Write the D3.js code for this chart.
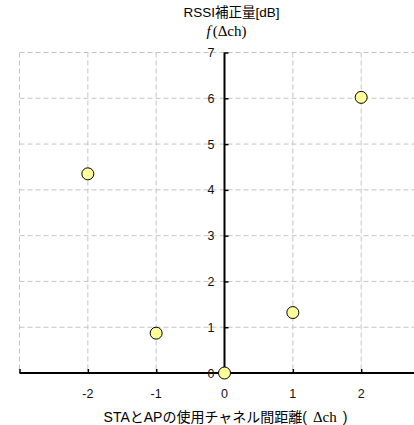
<!DOCTYPE html>
<html><head><meta charset="utf-8">
<script src="https://cdn.jsdelivr.net/npm/d3@7"></script>
<style>body{margin:0;background:#fff}svg{display:block}</style>
</head><body>
<svg id="c" width="414" height="425"></svg>
<script>
const xValues = [-2, -1, 0, 1, 2];
const yValues = [4.35, 0.87, 0, 1.32, 6.02];
const xTicks = [-2, -1, 0, 1, 2];
const yTicks = [0, 1, 2, 3, 4, 5, 6, 7];
const title1 = "RSSI補正量[dB]";
const xTitle = "STAとAPの使用チャネル間距離";

const svg = d3.select("#c");
const x = d3.scaleLinear().domain([-3, 3]).range([19.5, 429.5]);
const y = d3.scaleLinear().domain([0, 7]).range([373, 52.5]);
const gridColor = "#c4c4c4";
const font = "Liberation Sans, Arial, 'Noto Sans CJK JP', sans-serif";
const serif = "Liberation Serif, 'Times New Roman', serif";

// grid
const g = svg.append("g");
g.selectAll(".hg").data(yTicks.filter(d => d > 0)).join("line")
  .attr("x1", x(-3)).attr("x2", 414).attr("y1", d => y(d)).attr("y2", d => y(d))
  .attr("stroke", gridColor).attr("stroke-dasharray", "5,3");
g.selectAll(".vg").data([-3, ...xTicks.filter(d => d !== 0)]).join("line")
  .attr("x1", d => x(d)).attr("x2", d => x(d)).attr("y1", y(7)).attr("y2", y(0))
  .attr("stroke", gridColor).attr("stroke-dasharray", "5,3");

// x axis
const xAxis = svg.append("g").attr("transform", `translate(0,${y(0)})`)
  .call(d3.axisTop(x).tickValues([-3, ...xTicks]).tickSize(4).tickFormat(""));
xAxis.select(".domain").attr("stroke-width", 2).attr("d", `M${x(-3)},0H414`);
xAxis.selectAll(".tick line").attr("stroke-width", 1.5);
svg.append("g").selectAll("text").data(xTicks).join("text")
  .attr("x", d => x(d)).attr("y", y(0) + 24.5)
  .attr("text-anchor", "middle").attr("font-family", font).attr("font-size", 12.5)
  .attr("fill", "#111").text(d => d);

// y axis
const yAxis = svg.append("g").attr("transform", `translate(${x(0)},0)`)
  .call(d3.axisRight(y).tickValues(yTicks).tickSize(4).tickFormat(""));
yAxis.select(".domain").attr("stroke-width", 2).attr("d", `M0,${y(7)}V${y(0)}`);
yAxis.selectAll(".tick line").attr("stroke-width", 1.5);
svg.append("g").selectAll("text").data(yTicks).join("text")
  .attr("x", x(0) - 10).attr("y", d => y(d)).attr("dy", "0.36em")
  .attr("text-anchor", "end").attr("font-family", font).attr("font-size", 12.5)
  .attr("fill", "#111").text(d => d);

// points
svg.append("g").selectAll("circle").data(xValues.map((v, i) => [v, yValues[i]])).join("circle")
  .attr("cx", d => x(d[0])).attr("cy", d => y(d[1])).attr("r", 6)
  .attr("fill", "#ffff99").attr("stroke", "#000").attr("stroke-width", 1);

// titles
svg.append("text").attr("x", x(0) + 7).attr("y", 17).attr("text-anchor", "middle")
  .attr("font-family", font).attr("font-size", 13.5).text(title1);
const ft = svg.append("text").attr("x", x(0) + 2).attr("y", 36).attr("text-anchor", "middle")
  .attr("font-family", serif).attr("font-size", 15);
ft.append("tspan").attr("font-style", "italic").text("f");
ft.append("tspan").attr("dx", 2).text("(Δch)");

const xt = svg.append("text").attr("x", x(0) + 1).attr("y", 422).attr("text-anchor", "middle")
  .attr("font-family", font).attr("font-size", 14);
xt.append("tspan").text(xTitle + "(");
xt.append("tspan").attr("dx", 6).attr("font-family", serif).attr("font-size", 15).text("Δch");
xt.append("tspan").attr("dx", 6).text(")");
</script>
</body></html>
